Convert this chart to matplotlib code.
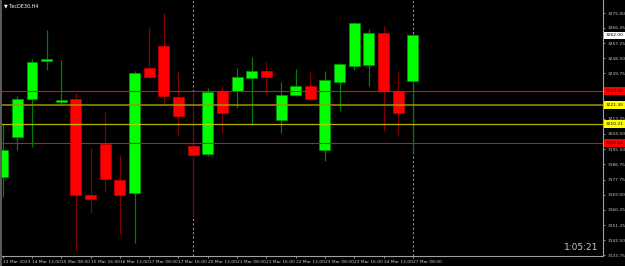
import matplotlib
matplotlib.use("Agg")
import matplotlib.pyplot as plt
from matplotlib.patches import Rectangle

# ---- data ----
times = ["13 Mar 2023", "14 Mar 08:00", "14 Mar 12:00", "14 Mar 16:00", "15 Mar 08:00",
         "15 Mar 12:00", "15 Mar 16:00", "16 Mar 08:00", "16 Mar 12:00", "16 Mar 16:00",
         "17 Mar 08:00", "17 Mar 12:00", "17 Mar 16:00", "20 Mar 08:00", "20 Mar 12:00",
         "20 Mar 16:00", "21 Mar 08:00", "21 Mar 12:00", "21 Mar 16:00", "22 Mar 08:00",
         "22 Mar 12:00", "22 Mar 16:00", "23 Mar 08:00", "23 Mar 12:00", "23 Mar 16:00",
         "24 Mar 08:00", "24 Mar 12:00", "24 Mar 16:00", "27 Mar 08:00"]
opens  = [3179.45, 3202.45, 3224.63, 3246.81, 3223.23, 3224.63, 3168.95, 3198.54, 3177.70, 3169.76,
          3242.72, 3255.91, 3225.80, 3197.37, 3192.53, 3229.65, 3229.48, 3237.24, 3241.15, 3212.55,
          3226.97, 3232.57, 3195.04, 3234.90, 3244.24, 3244.65, 3263.15, 3229.48, 3235.31]
highs  = [3210.04, 3226.56, 3247.97, 3265.08, 3247.57, 3228.13, 3196.38, 3217.39, 3192.12, 3241.32,
          3266.65, 3275.00, 3241.15, 3228.89, 3231.05, 3232.39, 3242.72, 3249.14, 3246.58, 3234.73,
          3242.14, 3240.74, 3241.15, 3245.99, 3269.92, 3265.49, 3267.41, 3240.74, 3262.00]
lows   = [3167.78, 3195.04, 3196.96, 3241.73, 3221.30, 3136.67, 3158.09, 3170.35, 3146.01, 3140.93,
          3237.82, 3221.71, 3203.62, 3155.93, 3191.54, 3204.79, 3219.38, 3209.46, 3228.13, 3205.13,
          3226.38, 3224.22, 3188.79, 3217.98, 3241.73, 3232.39, 3206.30, 3203.79, 3193.46]
closes = [3195.04, 3224.63, 3246.40, 3247.97, 3224.05, 3168.95, 3166.61, 3177.94, 3168.95, 3239.81,
          3237.82, 3226.56, 3215.06, 3191.94, 3229.07, 3216.46, 3237.82, 3241.32, 3237.82, 3227.32,
          3232.57, 3224.81, 3235.72, 3245.06, 3268.99, 3263.15, 3229.48, 3216.46, 3262.00]

ytick_vals = [3275.00, 3266.25, 3257.25, 3248.50, 3239.75, 3231.00, 3222.00, 3213.25, 3204.50,
              3195.50, 3186.75, 3177.75, 3169.00, 3160.25, 3151.25, 3142.50, 3133.75]
hidden_ticks = [3231.00, 3222.00]   # covered by the level boxes in the reference
red_levels = [3229.48, 3199.12]
yellow_levels = [3221.30, 3210.21]
separators = [13, 28]
symbol = "TecDE30,H4"
timer = "1:05:21"

# ---- figure ----
W, H = 625, 266
fig = plt.figure(figsize=(W / 100, H / 100), dpi=100, facecolor="black")
ax = fig.add_axes([2 / W, 10 / H, 601 / W, 256 / H], facecolor="black")

x = list(range(len(times)))
bull_body, bear_body = "#00ff00", "#ff0000"
bull_wick, bear_wick = "#008000", "#800000"

for xi in separators:
    ax.axvline(xi, color="#909090", lw=0.8, ls=(0, (2, 2)), zorder=1)

for i in x:
    up = closes[i] >= opens[i]
    ax.vlines(i, lows[i], highs[i], color=bull_wick if up else bear_wick, lw=0.9, zorder=2)
    lo, hi = min(opens[i], closes[i]), max(opens[i], closes[i])
    ax.bar(i, max(hi - lo, 0.6), bottom=lo, width=0.75,
           color=bull_body if up else bear_body,
           edgecolor="#009900" if up else "#cc0000", linewidth=0.5, zorder=3)

for lv in red_levels:
    ax.axhline(lv, color="#ff0000", lw=0.8, zorder=4)
ax.axhline(yellow_levels[0], color="#9a9a00", lw=1.2, alpha=0.9, zorder=4)
ax.axhline(yellow_levels[1], color="#c8c800", lw=0.9, alpha=0.9, zorder=4)

ax.set_xlim(-0.048, 40.98)
ax.set_ylim(3133.17, 3282.59)

# axes styling
for s in ("left", "top"):
    ax.spines[s].set_visible(False)
for s in ("right", "bottom"):
    ax.spines[s].set_color("#a0a0a0")
    ax.spines[s].set_linewidth(0.8)

ax.yaxis.tick_right()
ax.set_yticks(ytick_vals)
ax.set_yticklabels(["" if v in hidden_ticks else f"{v:.2f}" for v in ytick_vals])
ax.tick_params(axis="y", colors="#c8c8c8", labelsize=3.2, length=1.5, width=0.5, pad=2)

xt = x[::2]
ax.set_xticks(xt)
ax.set_xticklabels([times[i] for i in xt], ha="left")
ax.tick_params(axis="x", colors="#c8c8c8", labelsize=3.2, length=1.5, width=0.5, pad=1.5)

# right-side price boxes
def price_box(val, fc, tc="black"):
    ax.annotate(f"{val:.2f}", xy=(1.004, val), xycoords=("axes fraction", "data"),
                ha="left", va="center", fontsize=3.2, color=tc, zorder=10,
                annotation_clip=False,
                bbox=dict(boxstyle="square,pad=0.35", fc=fc, ec="none"))

price_box(closes[-1], "white")
for lv in red_levels:
    price_box(lv, "#ff0000")
for lv in yellow_levels:
    price_box(lv, "#ffff00")

ax.text(0.9917, 0.035, timer, transform=ax.transAxes, ha="right", va="center",
        fontsize=6.5, color="#c8c8c8", zorder=10)

fig.text(4 / W, 1 - 6 / H, "\u25bc " + symbol, fontsize=3.5, color="white",
         ha="left", va="center")
fig.add_artist(Rectangle((0, 0), 2 / W, 1, transform=fig.transFigure,
                         facecolor="#5a5a5a", edgecolor="none"))

fig.savefig("out.png", dpi=100, facecolor="black")
